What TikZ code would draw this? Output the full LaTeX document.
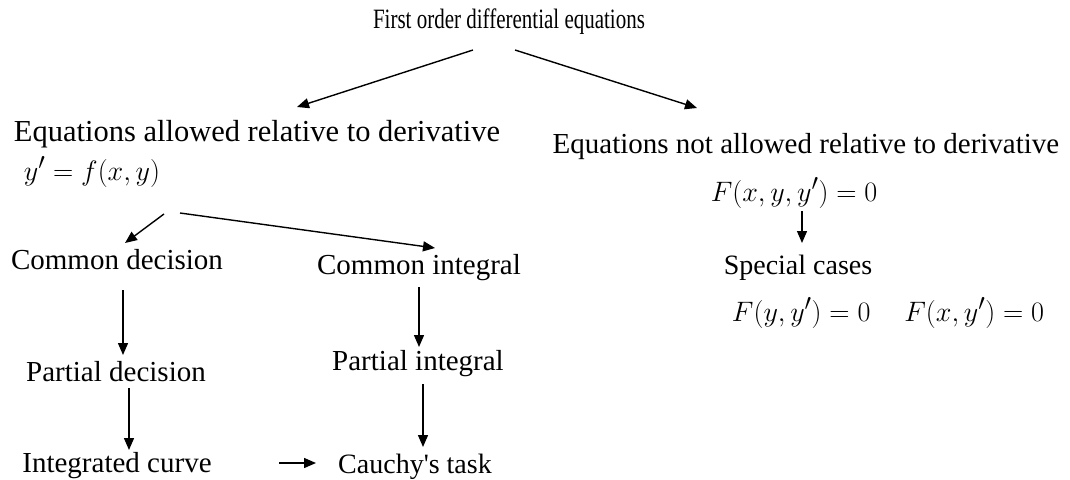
\documentclass[tikz,border=0pt]{standalone}
\usepackage{fontspec}
\usepackage{graphicx}
\setmainfont{Liberation Serif}[Ligatures=TeXOff]
\usetikzlibrary{arrows.meta}
\newcommand{\bigmath}[1]{\scalebox{1.13}{$#1$}}
\begin{document}
\begin{tikzpicture}[x=1pt,y=-1pt,
  lbl/.style={inner sep=0pt, font=\fontsize{29}{33}\selectfont},
  mth/.style={inner sep=0pt, font=\fontsize{30}{34}\selectfont},
  arr/.style={line width=1.4pt, -{Triangle[length=12pt,width=10pt]}}]
\useasboundingbox (0,0) rectangle (1070,479);
\node[lbl, font=\fontsize{28}{32}\selectfont, xscale=0.75] (top) at (509,22) {First order differential equations};
\node[lbl, font=\fontsize{30.5}{34}\selectfont] (allow) at (257,134) {Equations allowed relative to derivative};
\node[lbl] (notallow) at (806,147) {Equations not allowed relative to derivative};
\node[mth] (yf) at (92,172) {\bigmath{y' = f(x,y)}};
\node[mth] (Fxy) at (794,193) {\bigmath{F(x,y,y') = 0}};
\node[lbl, font=\fontsize{28}{32}\selectfont] (spec) at (798,268) {Special cases};
\node[mth] (Fcases) at (888,313) {\bigmath{F(y,y') = 0\quad F(x,y') = 0}};
\node[lbl] (cd) at (117,260) {Common decision};
\node[lbl] (ci) at (419,268) {Common integral};
\node[lbl] (pd) at (116,372) {Partial decision};
\node[lbl] (pi) at (418,364) {Partial integral};
\node[lbl] (ic) at (117,466) {Integrated curve};
\node[lbl, font=\fontsize{28}{32}\selectfont] (ct) at (415,467) {Cauchy's task};
\coordinate (a1s) at (473,50); \coordinate (a1e) at (297,107);
\coordinate (a2s) at (515,50); \coordinate (a2e) at (697,108);
\draw[arr] (a1s) -- (a1e);
\draw[arr] (a2s) -- (a2e);
\draw[arr] (164,214) -- (125,243);
\draw[arr] (180,213) -- (435,248);
\draw[arr] (123,290) -- (123,355);
\draw[arr] (129,388) -- (129,450);
\draw[arr] (419,287) -- (419,347);
\draw[arr] (423,384) -- (423,447);
\draw[arr] (802,211) -- (802,243);
\draw[arr] (279,463) -- (316,463);
\end{tikzpicture}
\end{document}
